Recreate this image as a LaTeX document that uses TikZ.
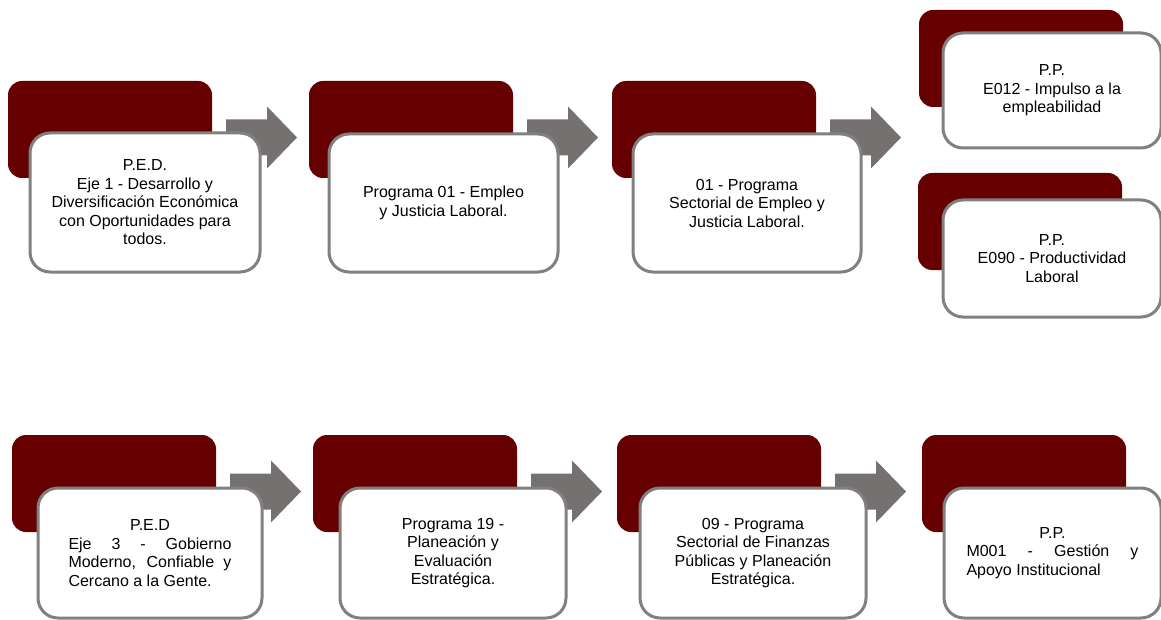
\documentclass[tikz,border=0pt]{standalone}
\usepackage{fontspec}
\setmainfont{Liberation Sans}
\usepackage{tikz}
\usetikzlibrary{calc}
\usetikzlibrary{positioning}

\definecolor{vino}{RGB}{102,0,0}
\definecolor{borde}{RGB}{128,128,128}
\definecolor{flechagris}{RGB}{118,113,113}

\tikzset{
  fondo/.style={fill=vino, rounded corners=14pt, minimum width=204pt, minimum height=97pt,
    anchor=north west, inner sep=0pt, outer sep=0pt},
  caja/.style={draw=borde, fill=white, line width=3pt, rounded corners=20pt,
    anchor=north west, inner sep=0pt, outer sep=0pt, align=center,
    font=\fontsize{16}{18.5}\selectfont},
}

\newcommand{\flecha}[1]{%
  \fill[flechagris] ($(#1.east)+(14,-10)$) -- ++(41,0) -- ++(0,-13) -- ++(30,31)
    -- ++(-30,31) -- ++(0,-13) -- ++(-41,0) -- cycle;}

\begin{document}
\begin{tikzpicture}[x=1pt, y=-1pt]
                  \useasboundingbox (0,0) rectangle (1161,620);
                  \node[fondo] (ped1f) at (8,81) {};
                  \node[fondo] (prog1f) at (309,81) {};
                  \node[fondo] (sect1f) at (612,81) {};
                  \node[fondo] (ppaf) at (919,10) {};
                  \node[fondo] (ppbf) at (918,173) {};
                  \node[fondo] (ped3f) at (12,435) {};
                  \node[fondo] (prog19f) at (313,435) {};
                  \node[fondo] (sect9f) at (617,435) {};
                  \node[fondo] (ppmf) at (922,435) {};
                  \flecha{ped1f}
                  \flecha{prog1f}
                  \flecha{sect1f}
                  \flecha{ped3f}
                  \flecha{prog19f}
                  \flecha{sect9f}
                  \node[caja, minimum width=230pt, minimum height=139pt] (ped1) at (30,133)
                    {P.E.D.\\Eje 1 - Desarrollo y\\Diversificación Económica\\con Oportunidades para\\todos.};
                  \node[caja, minimum width=229pt, minimum height=138pt] (prog1) at (329,134)
                    {Programa 01 - Empleo\\y Justicia Laboral.};
                  \node[caja, minimum width=228pt, minimum height=138pt] (sect1) at (633,134)
                    {01 - Programa\\Sectorial de Empleo y\\Justicia Laboral.};
                  \node[caja, minimum width=218pt, minimum height=115pt] (ppa) at (943,33)
                    {P.P.\\E012 - Impulso a la\\empleabilidad};
                  \node[caja, minimum width=218pt, minimum height=117pt] (ppb) at (943,200)
                    {P.P.\\E090 - Productividad\\Laboral};
                  \node[caja, minimum width=224pt, minimum height=130pt] (ped3) at (38,488)
                    {P.E.D\\\makebox[163pt][s]{Eje 3 - Gobierno}\\\makebox[163pt][s]{Moderno, Confiable y}\\\makebox[163pt][l]{Cercano a la Gente.}};
                  \node[caja, minimum width=226pt, minimum height=130pt] (prog19) at (340,488)
                    {Programa 19 -\\Planeación y\\Evaluación\\Estratégica.};
                  \node[caja, minimum width=226pt, minimum height=130pt] (sect9) at (640,488)
                    {09 - Programa\\Sectorial de Finanzas\\Públicas y Planeación\\Estratégica.};
                  \node[caja, minimum width=217pt, minimum height=130pt] (ppm) at (944,488)
                    {P.P.\\\makebox[172pt][s]{M001 - Gestión y}\\\makebox[172pt][l]{Apoyo Institucional}};
              \end{tikzpicture}
\end{document}
